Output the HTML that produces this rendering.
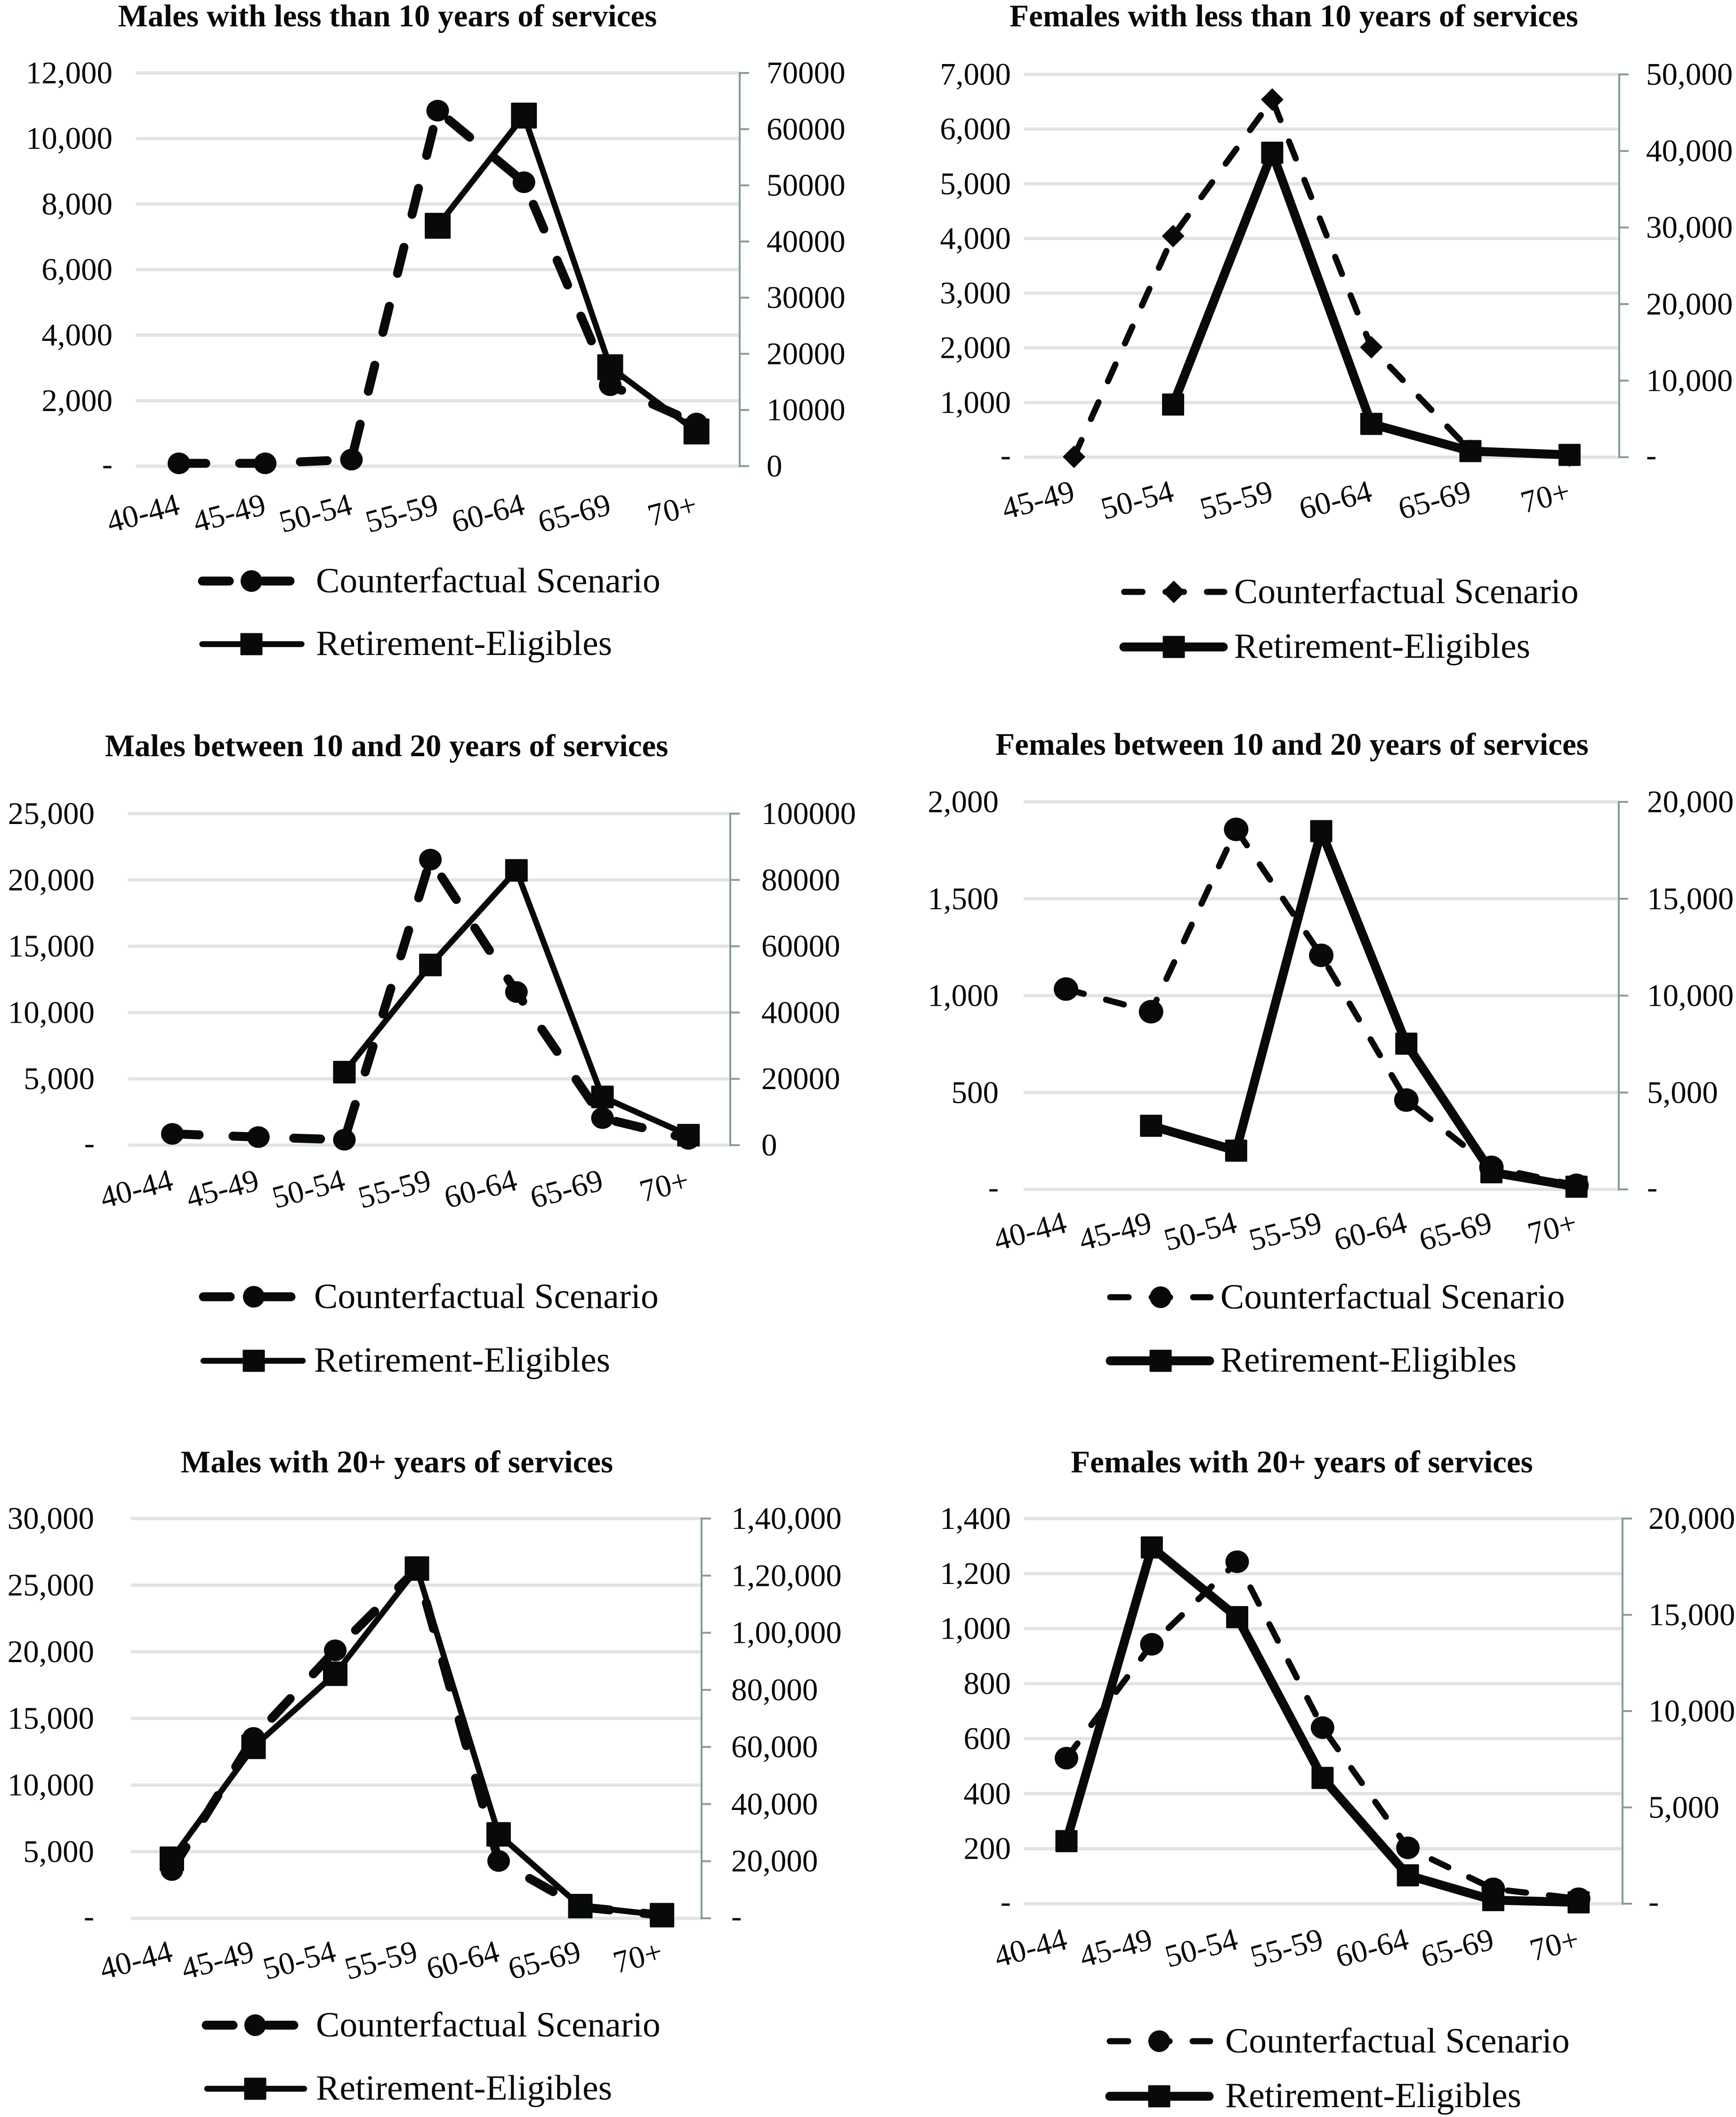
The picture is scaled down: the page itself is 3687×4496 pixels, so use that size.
<!DOCTYPE html>
<html lang="en">
<head>
<meta charset="utf-8">
<title>Counterfactual Scenario vs Retirement-Eligibles by age, sex and years of service</title>
<style>
html,body{margin:0;padding:0;background:#fff;}
svg{display:block;}
text{font-family:"Liberation Serif",serif;fill:#080a09;}
</style>
</head>
<body>
<svg id="figure" xmlns="http://www.w3.org/2000/svg" width="3687" height="4496" viewBox="0 0 3687 4496">
<rect x="0" y="0" width="3687" height="4496" fill="#ffffff"/>
</svg>
<script>
// ---------- data ----------
const catsA = ['40-44','45-49','50-54','55-59','60-64','65-69','70+'];
const catsB = ['45-49','50-54','55-59','60-64','65-69','70+'];

const maleLt10Counterfactual = [86,86,200,10850,8666,2470,1300];
const maleLt10Eligible = [null,null,null,42800,62415,17620,6170];
const maleLt10LeftTicks = ['-','2,000','4,000','6,000','8,000','10,000','12,000'];
const maleLt10RightTicks = ['0','10000','20000','30000','40000','50000','60000','70000'];

const femaleLt10Counterfactual = [8,4044,6540,2010,120,30];
const femaleLt10Eligible = [null,6880,39765,4350,800,300];
const femaleLt10LeftTicks = ['-','1,000','2,000','3,000','4,000','5,000','6,000','7,000'];
const femaleLt10RightTicks = ['-','10,000','20,000','30,000','40,000','50,000'];

const maleMidCounterfactual = [850,610,410,21535,11550,2040,475];
const maleMidEligible = [null,null,22010,54350,82880,14540,3000];
const maleMidLeftTicks = ['-','5,000','10,000','15,000','20,000','25,000'];
const maleMidRightTicks = ['0','20000','40000','60000','80000','100000'];

const femaleMidCounterfactual = [1034,917,1858,1208,461,114,21];
const femaleMidEligible = [null,3283,2000,18490,7520,885,140];
const femaleMidLeftTicks = ['-','500','1,000','1,500','2,000'];
const femaleMidRightTicks = ['-','5,000','10,000','15,000','20,000'];

const male20Counterfactual = [3623,13540,20110,26200,4300,850,240];
const male20Eligible = [20860,60040,85640,122470,29400,4270,1100];
const male20LeftTicks = ['-','5,000','10,000','15,000','20,000','25,000','30,000'];
const male20RightTicks = ['-','20,000','40,000','60,000','80,000','1,00,000','1,20,000','1,40,000'];

const female20Counterfactual = [529,943,1243,640,203,54,18];
const female20Eligible = [3250,18500,14880,6530,1474,187,70];
const female20LeftTicks = ['-','200','400','600','800','1,000','1,200','1,400'];
const female20RightTicks = ['-','5,000','10,000','15,000','20,000'];

// ---------- layout ----------
const SVGNS = 'http://www.w3.org/2000/svg';
const INK = '#080a09';
const GRID = '#dfe5e3';
const AXIS = '#87999a';
const TICK_FONT = 67;
const TITLE_FONT = 67;
const LEGEND_FONT = 75.5;
const THICK_DASH = '57 72';
const THIN_DASH = '39 49';

const panels = [
 {key:'male-under-10', title:'Males with less than 10 years of services', titleX:823, titleY:56,
  cats:catsA, cf:maleLt10Counterfactual, re:maleLt10Eligible, lt:maleLt10LeftTicks, rt:maleLt10RightTicks, lMax:12000, rMax:70000,
  left:289, right:1571, top:155, bottom:990, x0:380, step:183.2, lx:239, rx:1628, catDy:101,
  cfW:19, reW:12.5, cfDash:THICK_DASH, marker:'circle', sq:55, crx:24, cry:23,
  cfX0:430, cfX1:618, reX0:429.5, reX1:640.5, legXM:534, legA:1234, legB:1368, legT:671},
 {key:'female-under-10', title:'Females with less than 10 years of services', titleX:2748, titleY:56,
  cats:catsB, cf:femaleLt10Counterfactual, re:femaleLt10Eligible, lt:femaleLt10LeftTicks, rt:femaleLt10RightTicks, lMax:7000, rMax:50000,
  left:2175, right:3439, top:158, bottom:971, x0:2281, step:210.5, lx:2147, rx:3496, catDy:92,
  cfW:13, reW:19, cfDash:THIN_DASH, marker:'diamond', sq:47, crx:24, cry:23,
  cfX0:2387.5, cfX1:2600, reX0:2387, reX1:2598, legXM:2493, legA:1257, legB:1374, legT:2621},
 {key:'male-10-20', title:'Males between 10 and 20 years of services', titleX:821, titleY:1606,
  cats:catsA, cf:maleMidCounterfactual, re:maleMidEligible, lt:maleMidLeftTicks, rt:maleMidRightTicks, lMax:25000, rMax:100000,
  left:272, right:1551, top:1728, bottom:2432, x0:366, step:182.7, lx:201, rx:1617, catDy:94,
  cfW:19, reW:12.5, cfDash:THICK_DASH, marker:'circle', sq:48, crx:24, cry:23,
  cfX0:432, cfX1:621, reX0:432, reX1:643, legXM:539, legA:2754, legB:2890, legT:667},
 {key:'female-10-20', title:'Females between 10 and 20 years of services', titleX:2744, titleY:1603,
  cats:catsA, cf:femaleMidCounterfactual, re:femaleMidEligible, lt:femaleMidLeftTicks, rt:femaleMidRightTicks, lMax:2000, rMax:20000,
  left:2174, right:3438, top:1703, bottom:2526, x0:2264, step:180.7, lx:2121, rx:3498, catDy:90,
  cfW:13, reW:19, cfDash:THIN_DASH, marker:'circle', sq:47, crx:26, cry:25,
  cfX0:2358, cfX1:2571, reX0:2358, reX1:2569, legXM:2465, legA:2755, legB:2890, legT:2592},
 {key:'male-20-plus', title:'Males with 20+ years of services', titleX:843, titleY:3127,
  cats:catsA, cf:male20Counterfactual, re:male20Eligible, lt:male20LeftTicks, rt:male20RightTicks, lMax:30000, rMax:140000,
  left:278, right:1490, top:3225, bottom:4074, x0:365, step:173.5, lx:200, rx:1553, catDy:90,
  cfW:19, reW:12.5, cfDash:THICK_DASH, marker:'circle', sq:52, crx:24, cry:23,
  cfX0:438, cfX1:626, reX0:440, reX1:646, legXM:542, legA:4301, legB:4436, legT:671},
 {key:'female-20-plus', title:'Females with 20+ years of services', titleX:2765, titleY:3127,
  cats:catsA, cf:female20Counterfactual, re:female20Eligible, lt:female20LeftTicks, rt:female20RightTicks, lMax:1400, rMax:20000,
  left:2175, right:3446, top:3225, bottom:4043, x0:2265, step:181.3, lx:2147, rx:3501, catDy:95,
  cfW:13, reW:19, cfDash:THIN_DASH, marker:'circle', sq:47, crx:25, cry:24,
  cfX0:2357, cfX1:2570, reX0:2357, reX1:2568, legXM:2462, legA:4335, legB:4452, legT:2602}
];

// ---------- helpers ----------
function mk(tag, attrs, parent){
  const n = document.createElementNS(SVGNS, tag);
  for (const k in attrs) n.setAttribute(k, attrs[k]);
  parent.appendChild(n);
  return n;
}
function scaleY(p, v, max){ return p.bottom - (v / max) * (p.bottom - p.top); }
function scaleX(p, i){ return p.x0 + i * p.step; }
function tickY(p, i, count){ return p.bottom - (i / (count - 1)) * (p.bottom - p.top); }
function labelBaseline(y, label){ return label === '-' ? y + 18 : y + 22; }

function drawMarker(kind, x, y, parent, label, s){
  let el;
  if (kind === 'square') {
    el = mk('rect', {x:x-s.sq/2, y:y-s.sq/2, width:s.sq, height:s.sq, rx:2, fill:INK}, parent);
  } else if (kind === 'diamond') {
    el = mk('polygon', {points:(x-24)+','+y+' '+x+','+(y-24)+' '+(x+24)+','+y+' '+x+','+(y+24), fill:INK}, parent);
  } else {
    el = mk('ellipse', {cx:x, cy:y, rx:s.crx, ry:s.cry, fill:INK}, parent);
  }
  
  
  return el;
}

function drawSeries(p, values, max, width, dash, marker, seriesName, root){
  const g = mk('g', {}, root);
  
  
  const pts = [];
  values.forEach(function(v, i){
    if (v === null) return;
    pts.push([scaleX(p, i), scaleY(p, v, max), i]);
  });
  const attrs = {points:pts.map(function(q){return q[0]+','+q[1];}).join(' '), fill:'none', stroke:INK,
    'stroke-width':width, 'stroke-linejoin':'round', 'stroke-linecap':'round'};
  if (dash) attrs['stroke-dasharray'] = dash;
  const line = mk('polyline', attrs, g);
  
  
  pts.forEach(function(q){
    drawMarker(marker, q[0], q[1], g, seriesName + '-point-' + p.cats[q[2]], p);
  });
}

function drawPanel(p){
  const root = document.getElementById('figure');
  const g = mk('g', {}, root);
  
  

  const title = mk('text', {x:p.titleX, y:p.titleY, 'text-anchor':'middle', 'font-size':TITLE_FONT, 'font-weight':'bold'}, g);
  title.textContent = p.title;
  
  

  // gridlines and left ticks
  p.lt.forEach(function(label, i){
    const y = tickY(p, i, p.lt.length);
    const grid = mk('line', {x1:p.left, x2:p.right, y1:y, y2:y, stroke:GRID, 'stroke-width':7}, g);
    
    
    const t = mk('text', {x:p.lx, y:labelBaseline(y, label), 'text-anchor':'end', 'font-size':TICK_FONT}, g);
    t.textContent = label;
    
    
  });

  // right axis
  const axis = mk('line', {x1:p.right, x2:p.right, y1:p.top-2, y2:p.bottom+2, stroke:AXIS, 'stroke-width':4}, g);
  
  
  p.rt.forEach(function(label, i){
    const y = tickY(p, i, p.rt.length);
    const tk = mk('line', {x1:p.right, x2:p.right+20, y1:y, y2:y, stroke:AXIS, 'stroke-width':4}, g);
    
    
    const t = mk('text', {x:p.rx, y:labelBaseline(y, label), 'text-anchor':'start', 'font-size':TICK_FONT}, g);
    t.textContent = label;
    
    
  });

  // category labels
  p.cats.forEach(function(label, i){
    const x = scaleX(p, i) + 5;
    const y = p.bottom + p.catDy;
    const t = mk('text', {x:x, y:y, 'text-anchor':'end', 'font-size':TICK_FONT, transform:'rotate(-15 '+x+' '+y+')'}, g);
    t.textContent = label;
    
    
  });

  // series
  drawSeries(p, p.cf, p.lMax, p.cfW, p.cfDash, p.marker, 'counterfactual-scenario', g);
  drawSeries(p, p.re, p.rMax, p.reW, null, 'square', 'retirement-eligibles', g);

  // legend
  const legendMarker = {sq:47, crx:23, cry:23};
  const lg = mk('g', {}, g);
  
  
  const d1 = mk('line', {x1:p.cfX0, x2:p.cfX1, y1:p.legA, y2:p.legA, stroke:INK, 'stroke-width':p.cfW, 'stroke-linecap':'round', 'stroke-dasharray':p.cfDash}, lg);
  
  
  drawMarker(p.marker, p.legXM, p.legA, lg, 'legend-counterfactual-marker', legendMarker);
  const t1 = mk('text', {x:p.legT, y:p.legA+24, 'font-size':LEGEND_FONT}, lg);
  t1.textContent = 'Counterfactual Scenario';
  
  
  const l2 = mk('line', {x1:p.reX0, x2:p.reX1, y1:p.legB, y2:p.legB, stroke:INK, 'stroke-width':p.reW, 'stroke-linecap':'round'}, lg);
  
  
  drawMarker('square', p.legXM, p.legB, lg, 'legend-retirement-marker', legendMarker);
  const t2 = mk('text', {x:p.legT, y:p.legB+23, 'font-size':LEGEND_FONT}, lg);
  t2.textContent = 'Retirement-Eligibles';
  
  
}

panels.forEach(drawPanel);
</script>
</body>
</html>
